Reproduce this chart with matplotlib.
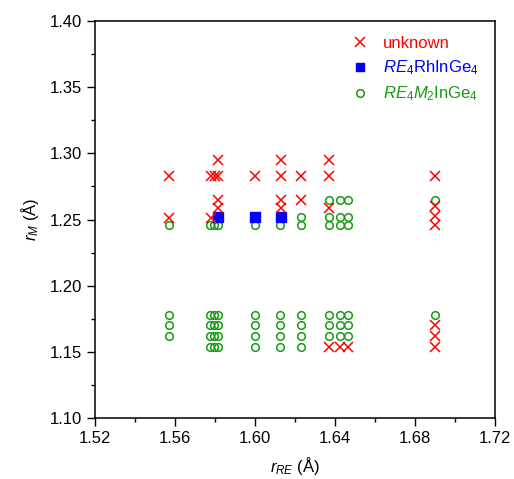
import numpy as np
import matplotlib
matplotlib.use('Agg')
import matplotlib.pyplot as plt
import matplotlib as mpl
from matplotlib.lines import Line2D
from matplotlib.ticker import MultipleLocator, FormatStrFormatter

mpl.rcParams['font.family'] = 'Liberation Sans'
mpl.rcParams['font.size'] = 12
mpl.rcParams['mathtext.fontset'] = 'custom'
mpl.rcParams['mathtext.rm'] = 'Liberation Sans'
mpl.rcParams['mathtext.it'] = 'Liberation Sans:italic'
mpl.rcParams['mathtext.default'] = 'regular'

# unknown phases
unk_x = [1.557, 1.557,
         1.578, 1.578, 1.580,
         1.5815, 1.5815, 1.5815, 1.5815,
         1.600,
         1.613, 1.613, 1.613, 1.613,
         1.623, 1.623,
         1.637, 1.637, 1.637, 1.637,
         1.6425, 1.6467,
         1.690, 1.690, 1.690, 1.690, 1.690, 1.690, 1.690]
unk_y = [1.283, 1.251,
         1.283, 1.251, 1.283,
         1.295, 1.283, 1.265, 1.259,
         1.283,
         1.295, 1.283, 1.265, 1.259,
         1.283, 1.265,
         1.295, 1.283, 1.259, 1.154,
         1.154, 1.154,
         1.283, 1.260, 1.253, 1.246, 1.170, 1.162, 1.154]

# RE4RhInGe4
rh_x = [1.5815, 1.600, 1.613]
rh_y = [1.252, 1.252, 1.252]

# RE4M2InGe4
m2_x = [1.557] * 4 \
     + [1.5775] * 5 + [1.5795] * 5 + [1.5815] * 5 \
     + [1.600] * 5 + [1.6125] * 5 + [1.623] * 6 \
     + [1.637] * 6 + [1.6425] * 6 + [1.6467] * 6 \
     + [1.690] * 2
m2_y = [1.246, 1.178, 1.170, 1.162] \
     + [1.246, 1.178, 1.170, 1.162, 1.154] * 3 \
     + [1.246, 1.178, 1.170, 1.162, 1.154] * 2 \
     + [1.252, 1.246, 1.178, 1.170, 1.162, 1.154] \
     + [1.265, 1.252, 1.246, 1.178, 1.170, 1.162] * 3 \
     + [1.265, 1.178]

green = '#159a15'

fig = plt.figure(figsize=(5.14, 4.79), dpi=100)
ax = fig.add_axes([0.1848, 0.1273, 0.7782, 0.8289])

ax.plot(m2_x, m2_y, 'o', ms=5.5, mfc='none', mec=green, mew=1.1, ls='none')
ax.plot(rh_x, rh_y, 's', ms=6.5, color='blue', ls='none')
ax.plot(unk_x, unk_y, 'x', ms=7.5, color='red', mew=1.1, ls='none')

ax.set_xlim(1.52, 1.72)
ax.set_ylim(1.10, 1.40)
ax.xaxis.set_major_locator(MultipleLocator(0.04))
ax.xaxis.set_minor_locator(MultipleLocator(0.02))
ax.yaxis.set_major_locator(MultipleLocator(0.05))
ax.yaxis.set_minor_locator(MultipleLocator(0.025))
ax.xaxis.set_major_formatter(FormatStrFormatter('%.2f'))
ax.yaxis.set_major_formatter(FormatStrFormatter('%.2f'))
ax.tick_params(which='major', direction='out', length=6, width=1)
ax.tick_params(which='minor', direction='out', length=3, width=1)
for s in ax.spines.values():
    s.set_linewidth(1.1)

ax.set_xlabel(r'$\mathit{r}_{\mathit{RE}}$ (Å)', labelpad=6)
ax.set_ylabel(r'$\mathit{r}_{\mathit{M}}$ (Å)', labelpad=6)

handles = [
    Line2D([], [], marker='x', ls='none', color='red', ms=7.5, mew=1.1),
    Line2D([], [], marker='s', ls='none', color='blue', ms=6),
    Line2D([], [], marker='o', ls='none', mfc='none', mec=green, ms=5.5, mew=1.1),
]
labels = ['unknown', r'$\mathit{RE}_4$RhInGe$_4$', r'$\mathit{RE}_4\mathit{M}_2$InGe$_4$']
leg = ax.legend(handles, labels, loc='upper left', bbox_to_anchor=(0.60, 1.0),
                frameon=False, handlelength=1.2, handletextpad=0.8,
                labelspacing=0.45, fontsize=12)
for txt, c in zip(leg.get_texts(), ['red', 'blue', green]):
    txt.set_color(c)

fig.savefig('out.png', dpi=100)
